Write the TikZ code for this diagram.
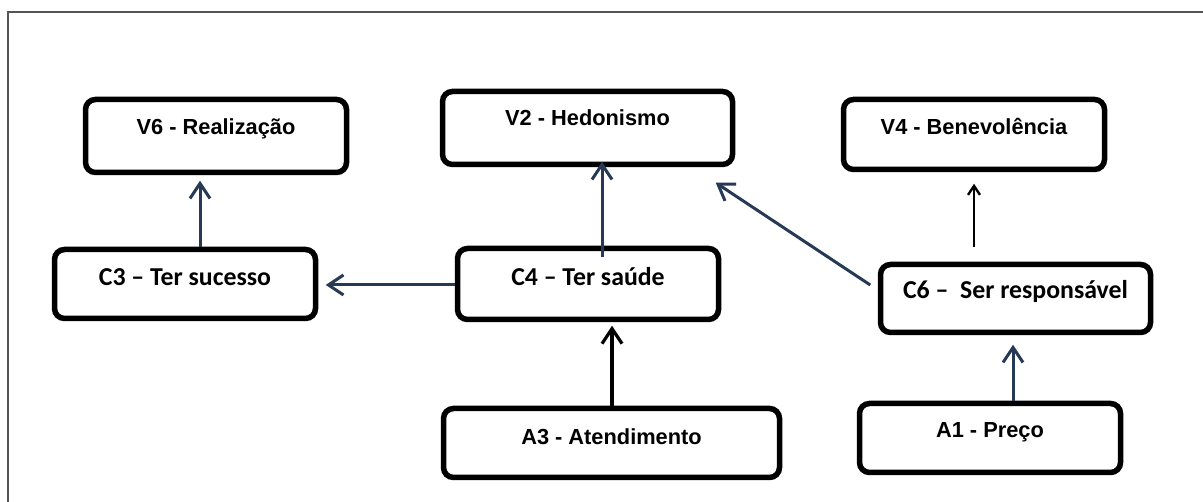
\documentclass[tikz,border=0pt]{standalone}
\usepackage{fontspec}
\newfontfamily\lsans{Liberation Sans}
\newfontfamily\carl{Carlito}
\usetikzlibrary{arrows.meta}
\definecolor{slate}{RGB}{38,58,85}
\definecolor{framegray}{RGB}{85,85,85}
\tikzset{
  box/.style={draw=black, line width=5.5pt, rounded corners=10pt, fill=white,
    inner sep=0pt, text height=15.6pt, text depth=#1},
  fa/.style={font={\lsans\bfseries\fontsize{21.8}{24}\selectfont}},
  fc/.style={font={\carl\bfseries\fontsize{25.8}{28}\selectfont}, text height=16.6pt},
  arr/.style={draw=slate, line width=3pt, -{Straight Barb[length=15pt,width=20pt]}},
  arrk/.style={draw=black, line width=3.2pt, -{Straight Barb[length=15pt,width=20pt]}},
  arrs/.style={draw=black, line width=2.4pt, -{Straight Barb[length=9pt,width=12pt]}},
}
\begin{document}
\begin{tikzpicture}[x=1pt,y=-1pt]
\useasboundingbox (0,0) rectangle (1203,502);
\draw[framegray, line width=1.6pt] (8,502) -- (8,12) -- (1203,12);

\node[box=18pt, fa, minimum width=261pt, minimum height=73pt] (v6) at (216,136) {V6 - Realização};
\node[box=20pt, fa, minimum width=290pt, minimum height=73pt] (v2) at (587.5,128) {V2 - Hedonismo};
\node[box=15pt, fa, minimum width=261pt, minimum height=70pt] (v4) at (974,134.5) {V4 - Benevolência};
\node[box=14pt, fc, minimum width=261pt, minimum height=69pt] (c3) at (185,284) {C3 – Ter sucesso};
\node[box=14pt, fc, minimum width=261pt, minimum height=71pt] (c4) at (588,284) {C4 – Ter saúde};
\node[box=17pt, fc, minimum width=270pt, minimum height=68pt] (c6) at (1015.5,298.5) {C6 –~ Ser responsável};
\node[box=12pt, fa, minimum width=336pt, minimum height=69pt] (a3) at (611.5,443) {A3 - Atendimento};
\node[box=16pt, fa, minimum width=261pt, minimum height=69pt] (a1) at (990,438) {A1 - Preço};

\draw[arr] ([xshift=15pt]c3.north) -- ([xshift=-16pt,yshift=-5.5pt]v6.south);
\draw[arr] (c4.west |- 0,285) -- ([xshift=7.5pt]c3.east |- 0,285);
\draw[arr] ([xshift=14pt,yshift=-11pt]c4.north) -- ([xshift=14.5pt,yshift=5.5pt]v2.south);
\draw[arrs] ([xshift=-41.5pt,yshift=14.5pt]c6.north) -- ([yshift=-11.5pt]v4.south);
\draw[arr] ([xshift=-7.5pt,yshift=13.5pt]c6.west) -- ([xshift=-19.5pt,yshift=-15.5pt]v2.south east);
\draw[arrk] ([xshift=0.5pt]a3.north) -- ([xshift=24pt,yshift=-3.5pt]c4.south);
\draw[arr] ([xshift=23pt]a1.north) -- ([xshift=-2.5pt,yshift=-9.5pt]c6.south);
\end{tikzpicture}
\end{document}
